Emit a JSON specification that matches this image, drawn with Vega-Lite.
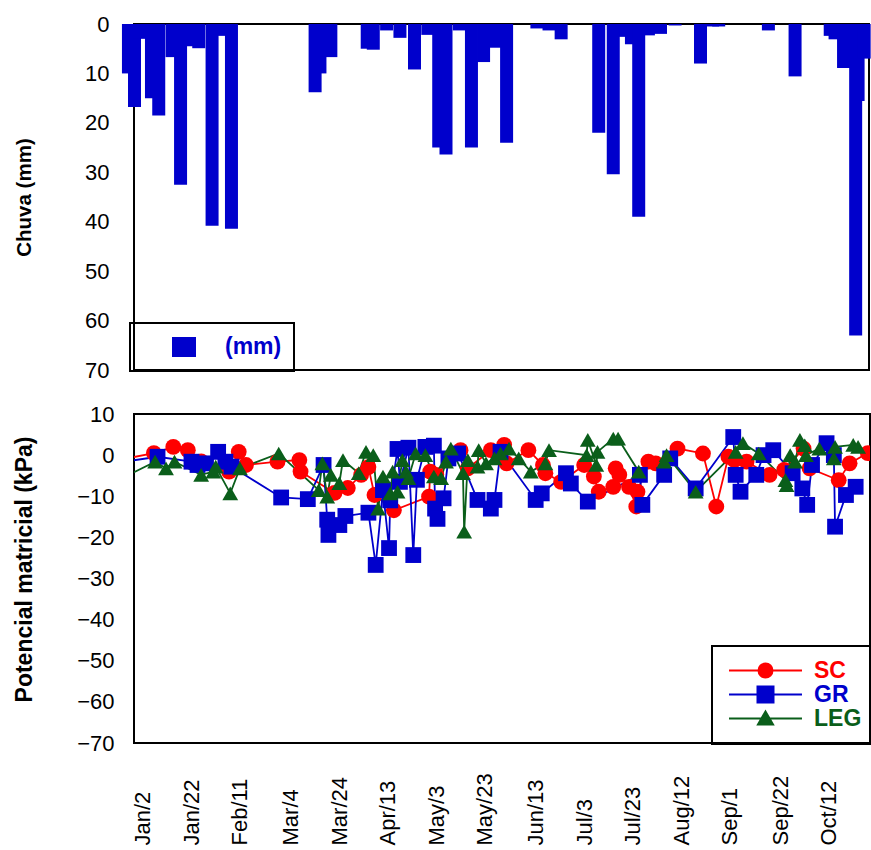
{
  "$schema": "https://vega.github.io/schema/vega-lite/v6.json",
  "background": "white",
  "padding": {"left": 12, "top": 12, "right": 2, "bottom": 2},
  "spacing": 20,
  "config": {
    "font": "Liberation Sans",
    "view": {"stroke": "black", "strokeWidth": 2},
    "axis": {"grid": false, "ticks": false, "domain": false, "labelFont": "Liberation Sans", "labelColor": "black", "titleFont": "Liberation Sans", "titleColor": "black", "titleFontWeight": "bold"}
  },
  "resolve": {"scale": {"x": "independent", "y": "independent", "color": "independent"}, "legend": {"color": "independent"}},
  "vconcat": [
    {
      "width": 735,
      "height": 346,
      "data": {"values": [
        {"d": "2006-12-27", "mm": 10, "serie": "(mm)"},
        {"d": "2006-12-29T12:00Z", "mm": 16.8, "serie": "(mm)"},
        {"d": "2006-12-31T12:00Z", "mm": 3, "serie": "(mm)"},
        {"d": "2007-01-05T12:00Z", "mm": 15, "serie": "(mm)"},
        {"d": "2007-01-08T12:00Z", "mm": 18.5, "serie": "(mm)"},
        {"d": "2007-01-14", "mm": 6.7, "serie": "(mm)"},
        {"d": "2007-01-17T12:00Z", "mm": 32.5, "serie": "(mm)"},
        {"d": "2007-01-22T12:00Z", "mm": 4.5, "serie": "(mm)"},
        {"d": "2007-01-25", "mm": 4.9, "serie": "(mm)"},
        {"d": "2007-01-30T12:00Z", "mm": 40.8, "serie": "(mm)"},
        {"d": "2007-02-03T12:00Z", "mm": 2.4, "serie": "(mm)"},
        {"d": "2007-02-07T12:00Z", "mm": 41.4, "serie": "(mm)"},
        {"d": "2007-03-14", "mm": 13.8, "serie": "(mm)"},
        {"d": "2007-03-16", "mm": 10, "serie": "(mm)"},
        {"d": "2007-03-20T12:00Z", "mm": 6.7, "serie": "(mm)"},
        {"d": "2007-04-04T12:00Z", "mm": 5.0, "serie": "(mm)"},
        {"d": "2007-04-07", "mm": 5.2, "serie": "(mm)"},
        {"d": "2007-04-12T12:00Z", "mm": 1.3, "serie": "(mm)"},
        {"d": "2007-04-18", "mm": 2.8, "serie": "(mm)"},
        {"d": "2007-04-24", "mm": 9.2, "serie": "(mm)"},
        {"d": "2007-04-29T12:00Z", "mm": 2.2, "serie": "(mm)"},
        {"d": "2007-05-04", "mm": 25, "serie": "(mm)"},
        {"d": "2007-05-07", "mm": 26.4, "serie": "(mm)"},
        {"d": "2007-05-12T12:00Z", "mm": 1.3, "serie": "(mm)"},
        {"d": "2007-05-17T12:00Z", "mm": 25, "serie": "(mm)"},
        {"d": "2007-05-22T12:00Z", "mm": 7.7, "serie": "(mm)"},
        {"d": "2007-05-25T12:00Z", "mm": 0.4, "serie": "(mm)"},
        {"d": "2007-05-27", "mm": 4.8, "serie": "(mm)"},
        {"d": "2007-06-01", "mm": 24, "serie": "(mm)"},
        {"d": "2007-06-13T12:00Z", "mm": 0.9, "serie": "(mm)"},
        {"d": "2007-06-18T12:00Z", "mm": 1.3, "serie": "(mm)"},
        {"d": "2007-06-23T12:00Z", "mm": 3.1, "serie": "(mm)"},
        {"d": "2007-07-09", "mm": 22, "serie": "(mm)"},
        {"d": "2007-07-15", "mm": 30.4, "serie": "(mm)"},
        {"d": "2007-07-19", "mm": 2.6, "serie": "(mm)"},
        {"d": "2007-07-22T12:00Z", "mm": 4.1, "serie": "(mm)"},
        {"d": "2007-07-25T12:00Z", "mm": 39, "serie": "(mm)"},
        {"d": "2007-07-29T12:00Z", "mm": 2.3, "serie": "(mm)"},
        {"d": "2007-08-03T12:00Z", "mm": 2, "serie": "(mm)"},
        {"d": "2007-08-09T12:00Z", "mm": 0.3, "serie": "(mm)"},
        {"d": "2007-08-20", "mm": 8, "serie": "(mm)"},
        {"d": "2007-08-25", "mm": 0.5, "serie": "(mm)"},
        {"d": "2007-08-27T12:00Z", "mm": 0.5, "serie": "(mm)"},
        {"d": "2007-09-17", "mm": 1.3, "serie": "(mm)"},
        {"d": "2007-09-28", "mm": 10.6, "serie": "(mm)"},
        {"d": "2007-10-12T12:00Z", "mm": 2.4, "serie": "(mm)"},
        {"d": "2007-10-14T12:00Z", "mm": 3.1, "serie": "(mm)"},
        {"d": "2007-10-18", "mm": 8.9, "serie": "(mm)"},
        {"d": "2007-10-23", "mm": 63, "serie": "(mm)"},
        {"d": "2007-10-24", "mm": 15.6, "serie": "(mm)"},
        {"d": "2007-10-26T12:00Z", "mm": 7, "serie": "(mm)"}
      ]},
      "mark": {"type": "rule", "strokeWidth": 13, "strokeCap": "butt", "clip": false},
      "encoding": {
        "x": {"field": "d", "type": "temporal", "scale": {"type": "utc", "domain": [{"year": 2006, "month": 12, "date": 29, "hours": 7, "utc": true}, {"year": 2007, "month": 10, "date": 28, "hours": 12, "utc": true}]}, "axis": null},
        "y": {"field": "mm", "type": "quantitative", "scale": {"domain": [0, 70], "reverse": true, "nice": false},
          "axis": {"values": [0, 10, 20, 30, 40, 50, 60, 70], "title": "Chuva (mm)", "labelFontSize": 22, "labelPadding": 25, "minExtent": 84, "maxExtent": 84, "titlePadding": 16, "titleFontSize": 20.5}},
        "y2": {"datum": 0},
        "color": {"field": "serie", "type": "nominal", "scale": {"range": ["#0000CC"]},
          "legend": {"title": null, "orient": "none", "legendX": -4, "legendY": 299, "padding": 12, "strokeColor": "black",
            "symbolType": "M-1,-0.833H1V0.833H-1Z", "symbolSize": 576, "symbolOffset": 30, "symbolStrokeWidth": 0, "symbolOpacity": 1,
            "labelOffset": 29, "labelFontSize": 23, "labelFontWeight": "bold", "labelColor": "#0000CC", "labelFont": "Liberation Sans",
            "encode": {"legend": {"update": {"strokeWidth": {"value": 2}}},
              "symbols": {"update": {"fill": {"value": "#0000CC"}, "strokeWidth": {"value": 0}, "opacity": {"value": 1}}}}}}
      }
    },
    {
      "width": 736,
      "height": 329,
      "data": {"values": [
        {"s": "SC", "d": "2006-12-23", "v": -1.2},
        {"s": "SC", "d": "2007-01-06T12:00Z", "v": 0.5},
        {"s": "SC", "d": "2007-01-14T12:00Z", "v": 2.0},
        {"s": "SC", "d": "2007-01-20T12:00Z", "v": 1.2},
        {"s": "SC", "d": "2007-01-26", "v": -1.5},
        {"s": "SC", "d": "2007-02-06T12:00Z", "v": -4.0},
        {"s": "SC", "d": "2007-02-10T12:00Z", "v": 0.8},
        {"s": "SC", "d": "2007-02-13T12:00Z", "v": -2.4},
        {"s": "SC", "d": "2007-02-26T12:00Z", "v": -1.6},
        {"s": "SC", "d": "2007-03-07T12:00Z", "v": -1.2},
        {"s": "SC", "d": "2007-03-08", "v": -4.0},
        {"s": "SC", "d": "2007-03-22", "v": -9.2},
        {"s": "SC", "d": "2007-03-27T12:00Z", "v": -8.0},
        {"s": "SC", "d": "2007-04-02", "v": -4.8},
        {"s": "SC", "d": "2007-04-05", "v": -2.9},
        {"s": "SC", "d": "2007-04-07T12:00Z", "v": -9.7},
        {"s": "SC", "d": "2007-04-15T12:00Z", "v": -13.4},
        {"s": "SC", "d": "2007-04-30", "v": -10.1},
        {"s": "SC", "d": "2007-04-30T12:00Z", "v": -4.0},
        {"s": "SC", "d": "2007-05-03", "v": -4.8},
        {"s": "SC", "d": "2007-05-13", "v": 1.2},
        {"s": "SC", "d": "2007-05-16", "v": -3.2},
        {"s": "SC", "d": "2007-05-25T12:00Z", "v": 1.2},
        {"s": "SC", "d": "2007-05-31", "v": 2.5},
        {"s": "SC", "d": "2007-06-01", "v": -2.0},
        {"s": "SC", "d": "2007-06-10", "v": 1.2},
        {"s": "SC", "d": "2007-06-16", "v": -2.4},
        {"s": "SC", "d": "2007-06-17", "v": -4.4},
        {"s": "SC", "d": "2007-06-23T12:00Z", "v": -6.5},
        {"s": "SC", "d": "2007-07-03", "v": -2.4},
        {"s": "SC", "d": "2007-07-07", "v": -5.2},
        {"s": "SC", "d": "2007-07-09", "v": -8.9},
        {"s": "SC", "d": "2007-07-15", "v": -7.7},
        {"s": "SC", "d": "2007-07-16", "v": -3.2},
        {"s": "SC", "d": "2007-07-17T12:00Z", "v": -4.8},
        {"s": "SC", "d": "2007-07-21T12:00Z", "v": -7.7},
        {"s": "SC", "d": "2007-07-24T12:00Z", "v": -12.5},
        {"s": "SC", "d": "2007-07-25", "v": -8.9},
        {"s": "SC", "d": "2007-07-29T12:00Z", "v": -1.6},
        {"s": "SC", "d": "2007-08-01T12:00Z", "v": -2.0},
        {"s": "SC", "d": "2007-08-10T12:00Z", "v": 1.6},
        {"s": "SC", "d": "2007-08-21", "v": 0.4},
        {"s": "SC", "d": "2007-08-26T12:00Z", "v": -12.5},
        {"s": "SC", "d": "2007-08-31T12:00Z", "v": -0.4},
        {"s": "SC", "d": "2007-09-03", "v": -1.2},
        {"s": "SC", "d": "2007-09-08", "v": -1.6},
        {"s": "SC", "d": "2007-09-17T12:00Z", "v": -4.8},
        {"s": "SC", "d": "2007-09-23T12:00Z", "v": -3.6},
        {"s": "SC", "d": "2007-10-01T12:00Z", "v": 1.6},
        {"s": "SC", "d": "2007-10-04", "v": -3.2},
        {"s": "SC", "d": "2007-10-16", "v": -6.1},
        {"s": "SC", "d": "2007-10-20T12:00Z", "v": -2.0},
        {"s": "SC", "d": "2007-10-28", "v": 0.5},
        {"s": "GR", "d": "2006-12-23", "v": -1.8},
        {"s": "GR", "d": "2007-01-08", "v": -0.4},
        {"s": "GR", "d": "2007-01-22", "v": -1.6},
        {"s": "GR", "d": "2007-01-24T12:00Z", "v": -2.4},
        {"s": "GR", "d": "2007-01-28", "v": -2.0},
        {"s": "GR", "d": "2007-02-02", "v": 0.8},
        {"s": "GR", "d": "2007-02-05", "v": -1.6},
        {"s": "GR", "d": "2007-02-07T12:00Z", "v": -2.8},
        {"s": "GR", "d": "2007-02-28", "v": -10.3},
        {"s": "GR", "d": "2007-03-11", "v": -10.7},
        {"s": "GR", "d": "2007-03-17T12:00Z", "v": -2.4},
        {"s": "GR", "d": "2007-03-19", "v": -15.7},
        {"s": "GR", "d": "2007-03-19T12:00Z", "v": -19.4},
        {"s": "GR", "d": "2007-03-24", "v": -17.0},
        {"s": "GR", "d": "2007-03-26T12:00Z", "v": -14.8},
        {"s": "GR", "d": "2007-04-05", "v": -14.0},
        {"s": "GR", "d": "2007-04-08", "v": -26.7},
        {"s": "GR", "d": "2007-04-11", "v": -8.5},
        {"s": "GR", "d": "2007-04-13T12:00Z", "v": -22.6},
        {"s": "GR", "d": "2007-04-14", "v": -11.0},
        {"s": "GR", "d": "2007-04-17", "v": 1.5},
        {"s": "GR", "d": "2007-04-18", "v": -6.5},
        {"s": "GR", "d": "2007-04-21T12:00Z", "v": 1.8},
        {"s": "GR", "d": "2007-04-23T12:00Z", "v": -24.3},
        {"s": "GR", "d": "2007-04-25", "v": -6.0},
        {"s": "GR", "d": "2007-04-28T12:00Z", "v": 2.0},
        {"s": "GR", "d": "2007-05-02", "v": 2.3},
        {"s": "GR", "d": "2007-05-02T12:00Z", "v": -13.0},
        {"s": "GR", "d": "2007-05-03T12:00Z", "v": -15.5},
        {"s": "GR", "d": "2007-05-06", "v": -10.5},
        {"s": "GR", "d": "2007-05-08", "v": -0.8},
        {"s": "GR", "d": "2007-05-12", "v": 0.4},
        {"s": "GR", "d": "2007-05-20", "v": -10.9},
        {"s": "GR", "d": "2007-05-25T12:00Z", "v": -13.0},
        {"s": "GR", "d": "2007-05-27", "v": -10.9},
        {"s": "GR", "d": "2007-05-29T12:00Z", "v": 0.8},
        {"s": "GR", "d": "2007-06-13", "v": -10.9},
        {"s": "GR", "d": "2007-06-15T12:00Z", "v": -9.3},
        {"s": "GR", "d": "2007-06-25T12:00Z", "v": -4.4},
        {"s": "GR", "d": "2007-06-27T12:00Z", "v": -6.9},
        {"s": "GR", "d": "2007-07-04T12:00Z", "v": -11.3},
        {"s": "GR", "d": "2007-07-26", "v": -4.8},
        {"s": "GR", "d": "2007-07-27", "v": -12.1},
        {"s": "GR", "d": "2007-08-05", "v": -4.8},
        {"s": "GR", "d": "2007-08-07T12:00Z", "v": -0.8},
        {"s": "GR", "d": "2007-08-18", "v": -8.1},
        {"s": "GR", "d": "2007-09-02T12:00Z", "v": 4.4},
        {"s": "GR", "d": "2007-09-03T12:00Z", "v": -4.8},
        {"s": "GR", "d": "2007-09-05T12:00Z", "v": -8.9},
        {"s": "GR", "d": "2007-09-12", "v": -4.8},
        {"s": "GR", "d": "2007-09-15", "v": 0.0},
        {"s": "GR", "d": "2007-09-19", "v": 1.2},
        {"s": "GR", "d": "2007-09-27", "v": -4.4},
        {"s": "GR", "d": "2007-10-01", "v": -8.1},
        {"s": "GR", "d": "2007-10-03", "v": -12.1},
        {"s": "GR", "d": "2007-10-05", "v": -2.4},
        {"s": "GR", "d": "2007-10-11", "v": 2.9},
        {"s": "GR", "d": "2007-10-14", "v": 0.0},
        {"s": "GR", "d": "2007-10-14T12:00Z", "v": -17.4},
        {"s": "GR", "d": "2007-10-19", "v": -9.7},
        {"s": "GR", "d": "2007-10-23", "v": -7.7},
        {"s": "LEG", "d": "2006-12-23", "v": -6.0},
        {"s": "LEG", "d": "2007-01-07", "v": -1.6},
        {"s": "LEG", "d": "2007-01-11T12:00Z", "v": -3.2},
        {"s": "LEG", "d": "2007-01-15", "v": -1.6},
        {"s": "LEG", "d": "2007-01-26", "v": -4.8},
        {"s": "LEG", "d": "2007-01-31", "v": -4.0},
        {"s": "LEG", "d": "2007-02-01", "v": -2.8},
        {"s": "LEG", "d": "2007-02-07", "v": -9.3},
        {"s": "LEG", "d": "2007-02-11", "v": -3.2},
        {"s": "LEG", "d": "2007-02-27", "v": 0.4},
        {"s": "LEG", "d": "2007-03-15T12:00Z", "v": -8.5},
        {"s": "LEG", "d": "2007-03-17", "v": -2.0},
        {"s": "LEG", "d": "2007-03-19", "v": -10.1},
        {"s": "LEG", "d": "2007-03-20T12:00Z", "v": -4.8},
        {"s": "LEG", "d": "2007-03-24", "v": -6.8},
        {"s": "LEG", "d": "2007-03-25T12:00Z", "v": -1.2},
        {"s": "LEG", "d": "2007-04-01", "v": -4.4},
        {"s": "LEG", "d": "2007-04-04", "v": 0.8},
        {"s": "LEG", "d": "2007-04-07", "v": 0.0},
        {"s": "LEG", "d": "2007-04-09", "v": -13.0},
        {"s": "LEG", "d": "2007-04-11", "v": -5.2},
        {"s": "LEG", "d": "2007-04-14", "v": -9.3},
        {"s": "LEG", "d": "2007-04-15", "v": -4.0},
        {"s": "LEG", "d": "2007-04-17", "v": -8.9},
        {"s": "LEG", "d": "2007-04-19", "v": -1.2},
        {"s": "LEG", "d": "2007-04-20T12:00Z", "v": -4.0},
        {"s": "LEG", "d": "2007-04-21T12:00Z", "v": -5.6},
        {"s": "LEG", "d": "2007-04-24T12:00Z", "v": 0.4},
        {"s": "LEG", "d": "2007-04-28T12:00Z", "v": 0.0},
        {"s": "LEG", "d": "2007-05-02", "v": -5.2},
        {"s": "LEG", "d": "2007-05-05", "v": -5.6},
        {"s": "LEG", "d": "2007-05-07", "v": -1.6},
        {"s": "LEG", "d": "2007-05-09", "v": 1.6},
        {"s": "LEG", "d": "2007-05-14", "v": -4.4},
        {"s": "LEG", "d": "2007-05-14T12:00Z", "v": -18.6},
        {"s": "LEG", "d": "2007-05-16", "v": -1.2},
        {"s": "LEG", "d": "2007-05-20", "v": -2.8},
        {"s": "LEG", "d": "2007-05-20T12:00Z", "v": 1.2},
        {"s": "LEG", "d": "2007-05-23T12:00Z", "v": -2.0},
        {"s": "LEG", "d": "2007-05-27", "v": -0.8},
        {"s": "LEG", "d": "2007-05-29T12:00Z", "v": 0.4},
        {"s": "LEG", "d": "2007-06-02", "v": 1.6},
        {"s": "LEG", "d": "2007-06-06", "v": -0.8},
        {"s": "LEG", "d": "2007-06-11", "v": -4.0},
        {"s": "LEG", "d": "2007-06-17", "v": -2.0},
        {"s": "LEG", "d": "2007-06-18T12:00Z", "v": 1.2},
        {"s": "LEG", "d": "2007-07-04", "v": 0.0},
        {"s": "LEG", "d": "2007-07-04T12:00Z", "v": 3.7},
        {"s": "LEG", "d": "2007-07-08", "v": -2.4},
        {"s": "LEG", "d": "2007-07-08T12:00Z", "v": 0.8},
        {"s": "LEG", "d": "2007-07-15", "v": 4.0},
        {"s": "LEG", "d": "2007-07-17", "v": 4.0},
        {"s": "LEG", "d": "2007-07-25T12:00Z", "v": -4.0},
        {"s": "LEG", "d": "2007-08-05", "v": -1.6},
        {"s": "LEG", "d": "2007-08-06", "v": 0.0},
        {"s": "LEG", "d": "2007-08-18", "v": -8.9},
        {"s": "LEG", "d": "2007-09-03T12:00Z", "v": 0.8},
        {"s": "LEG", "d": "2007-09-06T12:00Z", "v": 2.9},
        {"s": "LEG", "d": "2007-09-13", "v": 0.4},
        {"s": "LEG", "d": "2007-09-24", "v": -6.1},
        {"s": "LEG", "d": "2007-09-24T12:00Z", "v": -7.3},
        {"s": "LEG", "d": "2007-09-26", "v": 0.0},
        {"s": "LEG", "d": "2007-09-28", "v": -1.6},
        {"s": "LEG", "d": "2007-09-30", "v": 3.7},
        {"s": "LEG", "d": "2007-10-02", "v": 2.4},
        {"s": "LEG", "d": "2007-10-02T12:00Z", "v": 0.0},
        {"s": "LEG", "d": "2007-10-08", "v": 1.6},
        {"s": "LEG", "d": "2007-10-14", "v": -0.8},
        {"s": "LEG", "d": "2007-10-14T12:00Z", "v": 2.0},
        {"s": "LEG", "d": "2007-10-22", "v": 2.5},
        {"s": "LEG", "d": "2007-10-24", "v": 2.0}
      ]},
      "encoding": {
        "x": {"field": "d", "type": "temporal", "scale": {"type": "utc", "domain": [{"year": 2006, "month": 12, "date": 29, "hours": 7, "utc": true}, {"year": 2007, "month": 10, "date": 28, "hours": 22, "utc": true}]},
          "axis": {"title": null, "format": "%b/%-d", "values": [
            {"year": 2007, "month": 1, "date": 2, "utc": true},
            {"year": 2007, "month": 1, "date": 22, "utc": true},
            {"year": 2007, "month": 2, "date": 11, "utc": true},
            {"year": 2007, "month": 3, "date": 4, "utc": true},
            {"year": 2007, "month": 3, "date": 24, "utc": true},
            {"year": 2007, "month": 4, "date": 13, "utc": true},
            {"year": 2007, "month": 5, "date": 3, "utc": true},
            {"year": 2007, "month": 5, "date": 23, "utc": true},
            {"year": 2007, "month": 6, "date": 13, "utc": true},
            {"year": 2007, "month": 7, "date": 3, "utc": true},
            {"year": 2007, "month": 7, "date": 23, "utc": true},
            {"year": 2007, "month": 8, "date": 12, "utc": true},
            {"year": 2007, "month": 9, "date": 1, "utc": true},
            {"year": 2007, "month": 9, "date": 22, "utc": true},
            {"year": 2007, "month": 10, "date": 12, "utc": true}],
            "labelAngle": 270, "labelAlign": "left", "labelBaseline": "middle", "labelPadding": 102, "labelFontSize": 22, "labelFlush": false, "labelOverlap": false, "labelBound": false}},
        "y": {"field": "v", "type": "quantitative", "scale": {"domain": [-70, 10], "nice": false},
          "axis": {"values": [-70, -60, -50, -40, -30, -20, -10, 0, 10], "title": "Potencial matricial (kPa)", "labelFontSize": 22, "labelPadding": 20, "minExtent": 82, "maxExtent": 82, "titlePadding": 16, "titleFontSize": 23, "titleY": 155}},
        "color": {"field": "s", "type": "nominal", "scale": {"domain": ["SC", "GR", "LEG"], "range": ["#FF0000", "#0000CC", "#0A5E1A"]},
          "legend": {"title": null, "orient": "none", "legendX": 578, "legendY": 232, "padding": 13, "strokeColor": "black", "rowPadding": -1,
            "symbolSize": 256, "symbolStrokeWidth": 2, "symbolOffset": 29, "labelOffset": 37, "symbolOpacity": 1,
            "labelFontSize": 23, "labelFontWeight": "bold", "labelFont": "Liberation Sans",
            "encode": {
              "legend": {"update": {"strokeWidth": {"value": 2}}},
              "symbols": {"update": {
                "shape": {"signal": "datum.value === 'SC' ? 'M-4.56,0H4.56M-0.875,0A0.875,0.875,0,1,1,0.875,0A0.875,0.875,0,1,1,-0.875,0Z' : datum.value === 'GR' ? 'M-4.56,0H4.56M-1,-1H1V1H-1Z' : 'M-4.56,0H4.56M-0.94,0.75L0,-0.875L0.94,0.75Z'"},
                "fill": {"signal": "datum.value === 'SC' ? '#FF0000' : datum.value === 'GR' ? '#0000CC' : '#0A5E1A'"},
                "stroke": {"signal": "datum.value === 'SC' ? '#FF0000' : datum.value === 'GR' ? '#0000CC' : '#0A5E1A'"},
                "strokeWidth": {"value": 2},
                "opacity": {"value": 1}}},
              "labels": {"update": {"fill": {"signal": "datum.value === 'SC' ? '#FF0000' : datum.value === 'GR' ? '#0000CC' : '#0A5E1A'"}}}
            }}}
      },
      "layer": [
        {
          "mark": {"type": "line", "strokeWidth": 1.8, "clip": true}
        },
        {
          "mark": {"type": "point", "filled": true, "opacity": 1, "size": 250, "strokeWidth": 0, "clip": true},
          "encoding": {
            "shape": {"field": "s", "type": "nominal", "scale": {"domain": ["SC", "GR", "LEG"], "range": ["circle", "square", "triangle-up"]}, "legend": null}
          }
        }
      ]
    }
  ]
}
